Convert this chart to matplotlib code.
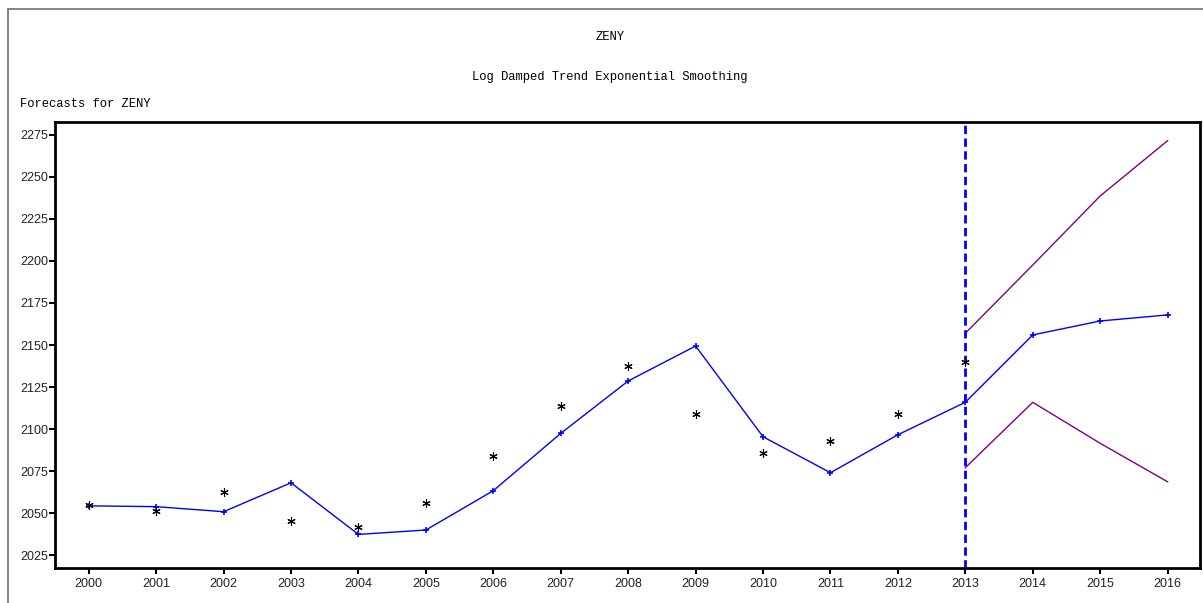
import matplotlib
matplotlib.use("Agg")
import matplotlib.pyplot as plt
from matplotlib.lines import Line2D

# Annual series for ZENY
years = [2000, 2001, 2002, 2003, 2004, 2005, 2006, 2007, 2008,
         2009, 2010, 2011, 2012, 2013]
actual = [2054.8, 2051.4, 2062.7, 2045.4, 2041.9, 2056.1, 2084.1, 2113.7,
          2137.5, 2108.7, 2085.5, 2093.0, 2108.7, 2140.1]

# One-step-ahead fitted values and forecasts
fit_years = list(range(2000, 2017))
fitted = [2054.3, 2053.8, 2050.8, 2068.0, 2037.3, 2039.9, 2063.3, 2097.4,
          2128.6, 2149.4, 2095.4, 2074.0, 2096.6, 2115.9, 2156.0, 2164.3,
          2167.9]

# Confidence limits over the forecast horizon
band_years = [2013, 2014, 2015, 2016]
upper = [2157.0, 2197.6, 2238.7, 2271.6]
lower = [2077.0, 2115.9, 2091.5, 2068.6]

forecast_origin = 2013
y_ticks = [2025, 2050, 2075, 2100, 2125, 2150, 2175, 2200, 2225, 2250, 2275]

fig = plt.figure(figsize=(12.03, 6.03), dpi=100)
fig.patch.set_facecolor("white")

# outer window frame (left and top edges)
fig.add_artist(Line2D([8 / 1203, 8 / 1203], [0, 1 - 9 / 603],
                      transform=fig.transFigure, color="#707070", lw=1.2))
fig.add_artist(Line2D([8 / 1203, 1], [1 - 9 / 603, 1 - 9 / 603],
                      transform=fig.transFigure, color="#707070", lw=1.2))

ax = fig.add_axes([55 / 1203, 1 - 568 / 603, 1145 / 1203, 446 / 603])

mono = "Liberation Mono"
fig.text(610 / 1203, 1 - 37 / 603, "ZENY", ha="center", va="center",
         family=mono, fontsize=8.7)
fig.text(610 / 1203, 1 - 77 / 603, "Log Damped Trend Exponential Smoothing",
         ha="center", va="center", family=mono, fontsize=8.7)
fig.text(20 / 1203, 1 - 104 / 603, "Forecasts for ZENY", ha="left",
         va="center", family=mono, fontsize=8.7)

ax.plot(fit_years, fitted, color="#0000ff", lw=1.0, marker="+",
        markersize=5, markeredgewidth=1.2, zorder=3)
ax.plot(years, actual, linestyle="none", marker=(6, 2, 0), color="black",
        markersize=6, markeredgewidth=0.8, zorder=4)
ax.plot(band_years, upper, color="#800080", lw=1.0, zorder=2)
ax.plot(band_years, lower, color="#800080", lw=1.0, zorder=2)
ax.axvline(forecast_origin, color="#0000ff", lw=2.0, linestyle=(0, (3, 1.6)),
           zorder=2)

ax.set_xlim(1999.5, 2016.48)
ax.set_ylim(2017.3, 2282.7)
ax.set_xticks(fit_years)
ax.set_xticklabels([str(y) for y in fit_years])
ax.set_yticks(y_ticks)
ax.set_yticklabels([str(v) for v in y_ticks])

for sp in ax.spines.values():
    sp.set_linewidth(2.0)
    sp.set_color("black")

ax.tick_params(axis="both", direction="out", length=4, width=1.5,
               color="black", labelsize=9, labelcolor="#222222")
ax.tick_params(axis="x", pad=3)
ax.tick_params(axis="y", pad=1)
for lab in ax.get_xticklabels() + ax.get_yticklabels():
    lab.set_family("Liberation Sans")

fig.savefig("out.png", dpi=100, facecolor="white")
